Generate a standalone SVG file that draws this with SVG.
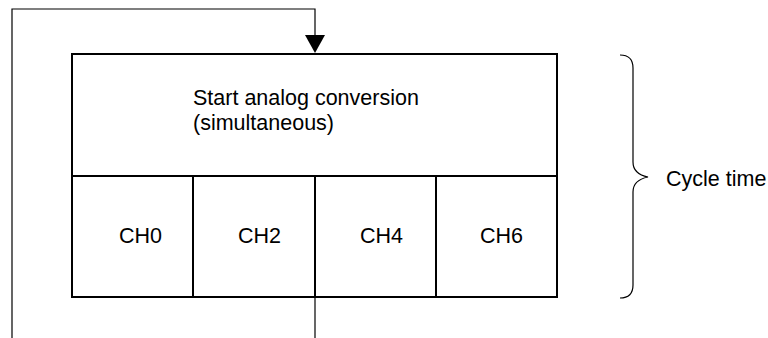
<svg xmlns="http://www.w3.org/2000/svg" width="768" height="338" viewBox="0 0 768 338">
<style>
.box{fill:#fff;stroke:#000;stroke-width:2}
.ln{fill:none;stroke:#000;stroke-width:1.2}
.t{font-family:"Liberation Sans",Arial,sans-serif;font-size:21.5px;fill:#000}
</style>
<g id="connectors">
<path class="ln" d="M12,338 V9 H315 V35"/>
<path d="M305,35 L325,35 L315,53 Z" fill="#000"/>
<path class="ln" d="M315,297 V338"/>
</g>
<g id="start">
<rect class="box" x="72" y="54" width="485" height="122"/>
<text class="t" x="193" y="105">Start analog conversion</text>
<text class="t" x="193" y="130">(simultaneous)</text>
</g>
<g id="ch0">
<rect class="box" x="72" y="176" width="121" height="121"/>
<text class="t" x="119" y="243">CH0</text>
</g>
<g id="ch2">
<rect class="box" x="193" y="176" width="122" height="121"/>
<text class="t" x="238" y="243">CH2</text>
</g>
<g id="ch4">
<rect class="box" x="315" y="176" width="121" height="121"/>
<text class="t" x="360" y="243">CH4</text>
</g>
<g id="ch6">
<rect class="box" x="436" y="176" width="121" height="121"/>
<text class="t" x="480" y="243">CH6</text>
</g>
<g id="cycle">
<path class="ln" d="M620,55 Q633,55 633,68 V162 Q633,174 648,177 Q633,180 633,192 V285 Q633,298 620,298"/>
<text class="t" x="666" y="186">Cycle time</text>
</g>
</svg>
